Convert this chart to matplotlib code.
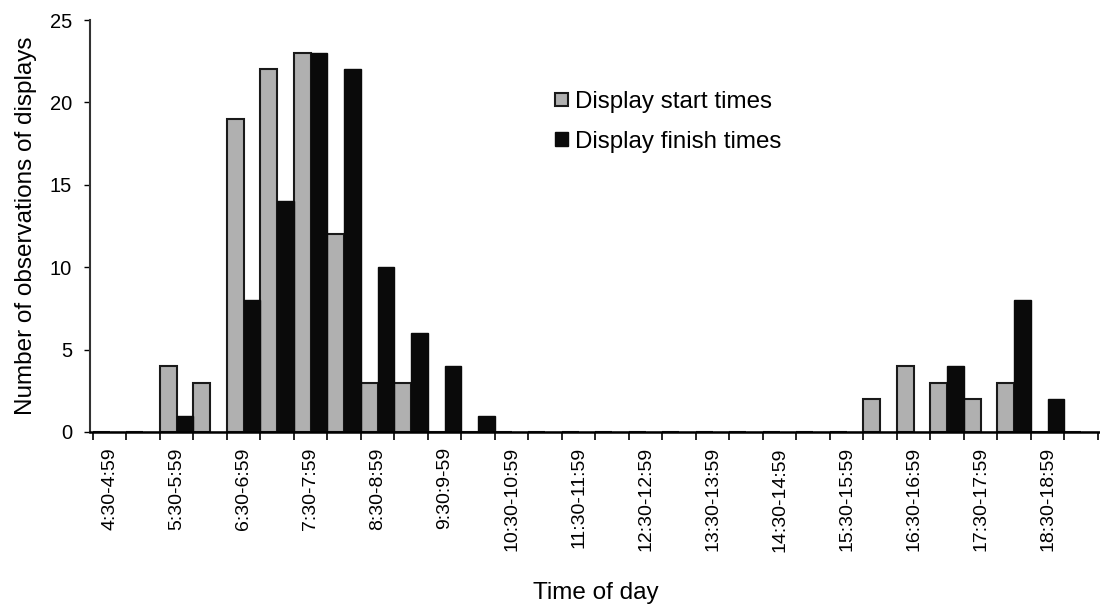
import matplotlib
matplotlib.use("Agg")
import matplotlib.pyplot as plt
import numpy as np

plt.rcParams["font.family"] = ["Liberation Sans", "DejaVu Sans"]

# half-hour categories, 4:30 to 19:29
categories = [
    "4:30-4:59", "5:00-5:29", "5:30-5:59", "6:00-6:29", "6:30-6:59",
    "7:00-7:29", "7:30-7:59", "8:00-8:29", "8:30-8:59", "9:00-9:29",
    "9:30:9-59", "10:00-10:29", "10:30-10:59", "11:00-11:29", "11:30-11:59",
    "12:00-12:29", "12:30-12:59", "13:00-13:29", "13:30-13:59", "14:00-14:29",
    "14:30-14:59", "15:00-15:29", "15:30-15:59", "16:00-16:29", "16:30-16:59",
    "17:00-17:29", "17:30-17:59", "18:00-18:29", "18:30-18:59", "19:00-19:29",
]
start_times = [0, 0, 4, 3, 19, 22, 23, 12, 3, 3,
               0, 0, 0, 0, 0, 0, 0, 0, 0, 0,
               0, 0, 0, 2, 4, 3, 2, 3, 0, 0]
finish_times = [0, 0, 1, 0, 8, 14, 23, 22, 10, 6,
                4, 1, 0, 0, 0, 0, 0, 0, 0, 0,
                0, 0, 0, 0, 0, 4, 0, 8, 2, 0]

x = np.arange(len(categories))

fig = plt.figure(figsize=(11, 6.08), dpi=100)
ax = fig.add_axes([0.0818, 0.2895, 0.9182, 0.6776])

ax.bar(x + 0.25, start_times, width=0.5, color="#b0b0b0", edgecolor="#1a1a1a",
       linewidth=1.5, label="Display start times")
ax.bar(x + 0.75, finish_times, width=0.5, color="#0a0a0a", edgecolor="#0a0a0a",
       linewidth=1.0, label="Display finish times")

ax.set_xlim(-0.09, 30.06)
ax.set_ylim(0, 25)
ax.set_yticks(range(0, 26, 5))

# ticks at category boundaries, labels on every other category centre
ax.set_xticks(np.arange(0, len(categories) + 1))
ax.set_xticklabels([])
ax.set_xticks(x[::2] + 0.5, minor=True)
ax.set_xticklabels(categories[::2], minor=True, rotation=90)
ax.tick_params(axis="x", which="major", direction="out", length=6, width=1.2)
ax.tick_params(axis="x", which="minor", length=0, pad=11, labelsize=14)
ax.tick_params(axis="y", direction="out", length=4, width=1.0, pad=9,
               labelsize=14.5)

for side in ("top", "right"):
    ax.spines[side].set_visible(False)
ax.spines["left"].set_linewidth(1.5)
ax.spines["left"].set_color("#333333")
ax.spines["bottom"].set_linewidth(1.8)

ax.set_ylabel("Number of observations of displays", fontsize=17.5)
ax.yaxis.set_label_coords(-0.052, 0.5)
ax.set_xlabel("Time of day", fontsize=17.5)
ax.xaxis.set_label_coords(0.501, -0.365)

ax.legend(loc="upper left", bbox_to_anchor=(0.494, 0.87),
          bbox_transform=fig.transFigure, frameon=False, fontsize=17.4,
          handlelength=0.5, handleheight=0.5, handletextpad=0.3,
          labelspacing=0.72, borderpad=0)

fig.savefig("out.png", dpi=100)
